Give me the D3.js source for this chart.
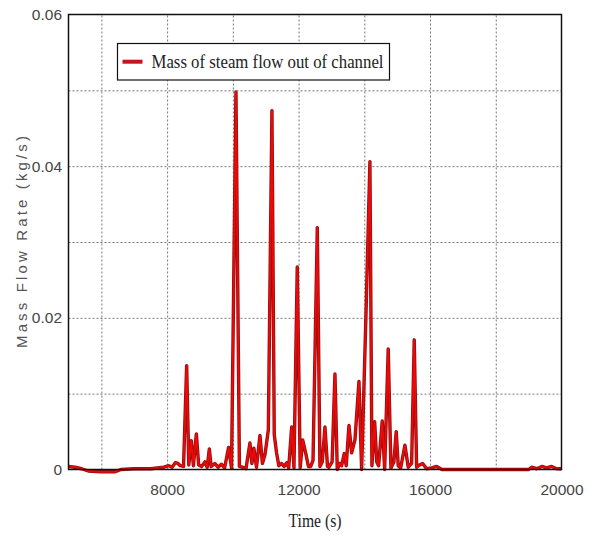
<!DOCTYPE html>
<html>
<head>
<meta charset="utf-8">
<script src="https://cdn.jsdelivr.net/npm/d3@7"></script>
<style>
  body { margin: 0; background: #fff; }
  #chart svg { display: block; }
</style>
</head>
<body>
<div id="chart"></div>
<script>
// time (s) and mass flow of steam (kg/s)
const timeSec = [
  5000, 5200, 5400, 5600, 6000, 6400, 6600, 7000, 7500, 7900,
  8050, 8150, 8250, 8330, 8400, 8500, 8595, 8660, 8735, 8800,
  8890, 8960, 9050, 9150, 9220, 9285, 9340, 9450, 9550, 9650,
  9750, 9870, 9960, 10095, 10200, 10300, 10400, 10520, 10580, 10640,
  10720, 10825, 10900, 10980, 11080, 11190, 11260, 11330, 11400, 11480,
  11560, 11640, 11700, 11790, 11860, 11960, 12050, 12125, 12225, 12300,
  12368, 12440, 12570, 12650, 12720, 12803, 12880, 12925, 13020, 13107,
  13177, 13250, 13310, 13390, 13450, 13533, 13615, 13716, 13837, 13919,
  14049, 14171, 14232, 14315, 14380, 14436, 14546, 14619, 14728, 14810,
  14900, 14971, 15032, 15106, 15236, 15337, 15440, 15519, 15592, 15680,
  15775, 15897, 16050, 16201, 16362, 17000, 18000, 19000, 19090, 19250,
  19400, 19550, 19700, 19850, 20000
];
const flowRate = [
  0.0004, 0.0003, 0.0001, -0.0002, -0.0003, -0.0003, 0.0000, 0.0001, 0.0001, 0.0003,
  0.0005, 0.0003, 0.0009, 0.0008, 0.0005, 0.0004, 0.0137, 0.0006, 0.0038, 0.0005,
  0.0047, 0.0006, 0.0004, 0.0010, 0.0003, 0.0027, 0.0004, 0.0008, 0.0003, 0.0007,
  0.0002, 0.0029, 0.0002, 0.0498, 0.0004, 0.0003, 0.0001, 0.0035, 0.0008, 0.0028,
  0.0003, 0.0045, 0.0008, 0.0020, 0.0052, 0.0473, 0.0046, 0.0022, 0.0005, 0.0008,
  0.0004, 0.0009, 0.0002, 0.0056, 0.0002, 0.0267, 0.0003, 0.0039, 0.0020, 0.0004,
  0.0004, 0.0012, 0.0319, 0.0004, 0.0010, 0.0056, 0.0004, 0.0003, 0.0010, 0.0126,
  0.0000, 0.0008, 0.0005, 0.0021, 0.0005, 0.0058, 0.0022, 0.0039, 0.0116, 0.0000,
  0.0201, 0.0406, 0.0005, 0.0063, 0.0010, 0.0005, 0.0064, 0.0000, 0.0159, 0.0002,
  0.0010, 0.0050, 0.0005, 0.0002, 0.0032, 0.0003, 0.0008, 0.0171, 0.0003, 0.0006,
  0.0008, 0.0001, 0.0002, 0.0004, 0.0000, 0.0000, 0.0000, 0.0000, 0.0003, 0.0001,
  0.0004, 0.0002, 0.0004, 0.0001, 0.0001
];

const xTicks = [8000, 12000, 16000, 20000];
const xGrid = [6000, 8000, 10000, 12000, 14000, 16000, 18000];
const yTicks = [0, 0.02, 0.04, 0.06];
const yGrid = [0.01, 0.02, 0.03, 0.04, 0.05];
const seriesName = "Mass of steam flow out of channel";

const data = timeSec.map((t, i) => ({ t: t, v: flowRate[i] }));

let margin = { top: 14.5, bottom: 65.5, left: 68.5, right: 30.5 };
let width = 592 - margin.left - margin.right,
    height = 535 - margin.top - margin.bottom;

let svg = d3.select('#chart')
    .append('svg')
    .attr('width', 592)
    .attr('height', 535);

svg.append('rect').attr('width', 592).attr('height', 535).attr('fill', '#fff');

let g = svg.append('g')
    .attr('transform', `translate(${margin.left},${margin.top})`);

// Scales
let xscale = d3.scaleLinear().domain([5000, 20000]).range([0, width]);
let yscale = d3.scaleLinear().domain([0, 0.06]).range([height, 0]);

// grid
g.append('g')
    .attr('class', 'grid')
    .attr('transform', `translate(0,${height})`)
    .call(d3.axisBottom(xscale).tickValues(xGrid).tickSize(-height).tickFormat(''))
    .call(s => s.select('.domain').remove());
g.append('g')
    .attr('class', 'grid')
    .call(d3.axisLeft(yscale).tickValues(yGrid).tickSize(-width).tickFormat(''))
    .call(s => s.select('.domain').remove());
g.selectAll('.grid line')
    .attr('stroke', '#777')
    .attr('stroke-width', 1)
    .attr('stroke-dasharray', '2,2');

// the series: dark rim under a bright red core
let line = d3.line().x(d => xscale(d.t)).y(d => yscale(d.v));
g.append('path')
    .datum(data)
    .attr('fill', 'none')
    .attr('stroke', '#8e1010')
    .attr('stroke-width', 3.4)
    .attr('stroke-linejoin', 'round')
    .attr('d', line);
g.append('path')
    .datum(data)
    .attr('fill', 'none')
    .attr('stroke', '#f00808')
    .attr('stroke-width', 1.8)
    .attr('stroke-linejoin', 'round')
    .attr('d', line);

// frame
g.append('rect')
    .attr('width', width)
    .attr('height', height)
    .attr('fill', 'none')
    .attr('stroke', '#111')
    .attr('stroke-width', 1.5);

// Axes
let g_xaxis = g.append('g')
    .attr('transform', `translate(0,${height})`)
    .call(d3.axisBottom(xscale).tickValues(xTicks).tickSize(0).tickPadding(14)
        .tickFormat(d3.format('d')));
let g_yaxis = g.append('g')
    .call(d3.axisLeft(yscale).tickValues(yTicks).tickSize(0).tickPadding(6.5)
        .tickFormat(d => d === 0 ? '0' : d3.format('.2f')(d)));
[g_xaxis, g_yaxis].forEach(a => {
    a.select('.domain').remove();
    a.selectAll('text')
        .attr('fill', '#444')
        .style('font-family', '"Liberation Sans", Arial, sans-serif')
        .style('font-size', '15.5px');
});

// axis titles
svg.append('text')
    .attr('x', margin.left + width / 2)
    .attr('y', 527)
    .attr('text-anchor', 'middle')
    .attr('textLength', 53)
    .attr('lengthAdjust', 'spacingAndGlyphs')
    .style('font-family', '"Liberation Serif", "Times New Roman", serif')
    .style('font-size', '18px')
    .attr('fill', '#222')
    .text('Time (s)');

svg.append('text')
    .attr('transform', `translate(27,${margin.top + height / 2}) rotate(-90)`)
    .attr('text-anchor', 'middle')
    .attr('textLength', 212)
    .attr('lengthAdjust', 'spacing')
    .style('font-family', '"Liberation Sans", Arial, sans-serif')
    .style('font-size', '15px')
    .attr('fill', '#555')
    .text('Mass Flow Rate (kg/s)');

// legend
let legend = svg.append('g').attr('transform', 'translate(117.5,43.5)');
legend.append('rect')
    .attr('width', 272)
    .attr('height', 36.5)
    .attr('fill', '#fff')
    .attr('stroke', '#111')
    .attr('stroke-width', 1.2);
legend.append('line')
    .attr('x1', 5).attr('x2', 25)
    .attr('y1', 18.2).attr('y2', 18.2)
    .attr('stroke', '#c8141c')
    .attr('stroke-width', 4);
legend.append('text')
    .attr('x', 34)
    .attr('y', 24.5)
    .attr('textLength', 232)
    .attr('lengthAdjust', 'spacingAndGlyphs')
    .style('font-family', '"Liberation Serif", "Times New Roman", serif')
    .style('font-size', '19px')
    .attr('fill', '#222')
    .text(seriesName);
</script>
</body>
</html>
